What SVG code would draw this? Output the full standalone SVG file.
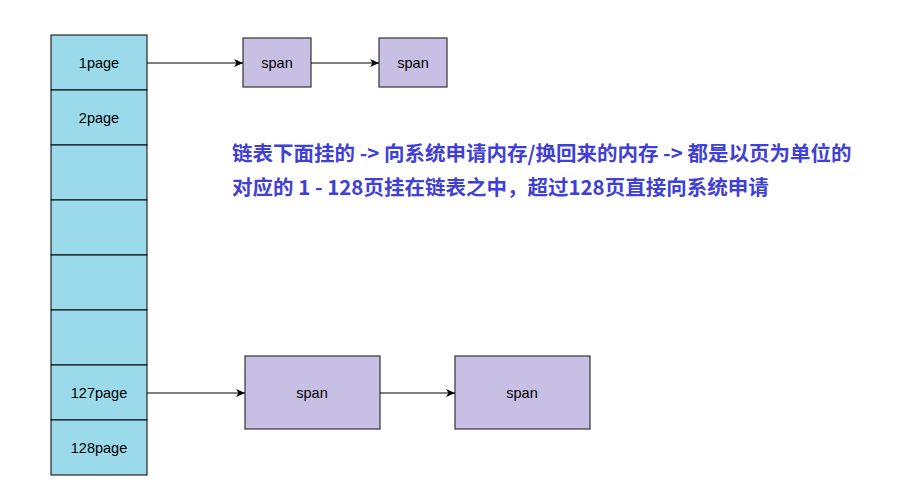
<svg xmlns="http://www.w3.org/2000/svg" width="917" height="503" viewBox="0 0 917 503">
<style>
.cell{fill:#9ADAEA;stroke:#000;stroke-width:1}
.span{fill:#C8BFE4;stroke:#333;stroke-width:1.2}
.lbl{font-family:"Liberation Sans",Arial,sans-serif;font-size:14.5px;fill:#000;text-anchor:middle;dominant-baseline:central}
.conn{stroke:#000;stroke-width:1;fill:none;marker-end:url(#arr)}
.note{font-family:"Noto Sans CJK SC","Noto Sans",sans-serif;font-size:20.5px;font-weight:bold;fill:#4040D6}
</style>
<defs>
<marker id="arr" markerWidth="10" markerHeight="10" refX="9" refY="5" orient="auto" markerUnits="userSpaceOnUse">
<path d="M0,1 L9,5 L0,9 L2.5,5 Z" fill="#000"/>
</marker>
</defs>
<rect width="917" height="503" fill="#fff"/>
<g id="page1"><rect class="cell" x="51" y="35" width="96" height="55"/><text class="lbl" x="99" y="63">1page</text></g>
<g id="page2"><rect class="cell" x="51" y="90" width="96" height="55"/><text class="lbl" x="99" y="118">2page</text></g>
<g id="page3"><rect class="cell" x="51" y="145" width="96" height="55"/></g>
<g id="page4"><rect class="cell" x="51" y="200" width="96" height="55"/></g>
<g id="page5"><rect class="cell" x="51" y="255" width="96" height="55"/></g>
<g id="page6"><rect class="cell" x="51" y="310" width="96" height="55"/></g>
<g id="page127"><rect class="cell" x="51" y="365" width="96" height="55"/><text class="lbl" x="99" y="393">127page</text></g>
<g id="page128"><rect class="cell" x="51" y="420" width="96" height="55"/><text class="lbl" x="99" y="448">128page</text></g>
<g id="span1"><rect class="span" x="243" y="38" width="68" height="49"/><text class="lbl" x="277" y="63">span</text></g>
<g id="span2"><rect class="span" x="379" y="38" width="68" height="49"/><text class="lbl" x="413" y="63">span</text></g>
<g id="span3"><rect class="span" x="245" y="356" width="135" height="73"/><text class="lbl" x="312" y="393">span</text></g>
<g id="span4"><rect class="span" x="455" y="356" width="135" height="73"/><text class="lbl" x="522" y="393">span</text></g>
<g id="connectors">
<line class="conn" x1="147" y1="63" x2="243" y2="63"/>
<line class="conn" x1="311" y1="63" x2="379" y2="63"/>
<line class="conn" x1="147" y1="393" x2="245" y2="393"/>
<line class="conn" x1="380" y1="393" x2="455" y2="393"/>
</g>
<text class="note" x="232" y="161">链表下面挂的 -&gt; 向系统申请内存/换回来的内存 -&gt; 都是以页为单位的</text>
<text class="note" x="232" y="195">对应的 1 - 128页挂在链表之中，超过128页直接向系统申请</text>
</svg>
